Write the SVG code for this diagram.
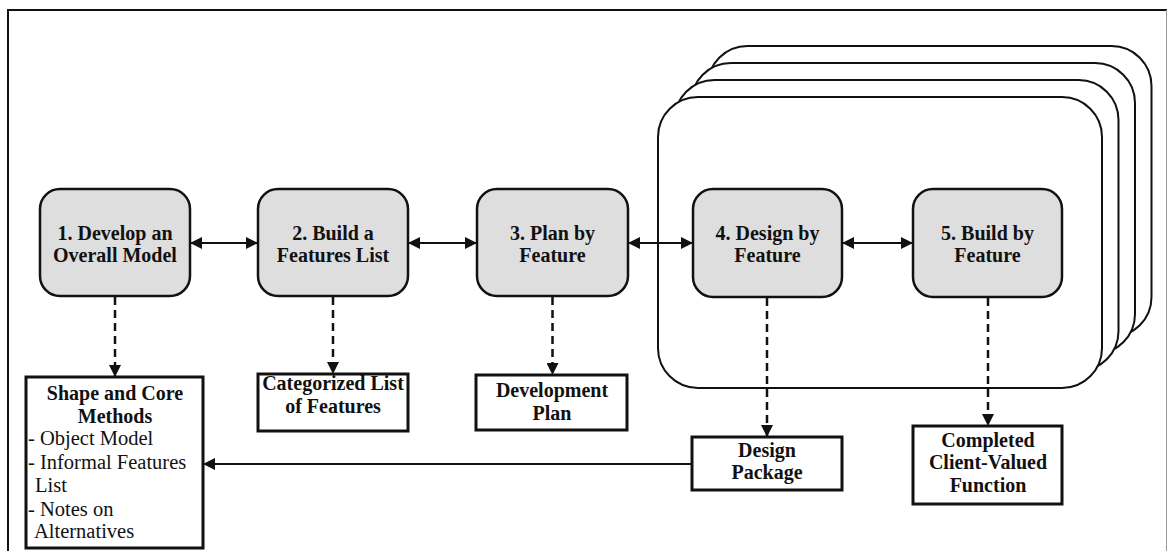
<svg xmlns="http://www.w3.org/2000/svg" width="1168" height="551" viewBox="0 0 1168 551">
  <style>
    .frame { fill: #ffffff; stroke: #111111; stroke-width: 2; }
    .step rect { fill: #dedede; stroke: #111111; stroke-width: 2.5; }
    .out rect { fill: #ffffff; stroke: #111111; stroke-width: 3; }
    text { font-family: "Liberation Serif", "Times New Roman", serif; font-size: 20px; fill: #111111; }
    .b { font-weight: bold; text-anchor: middle; }
    .n { font-size: 20.5px; }
    .solid { stroke: #111111; stroke-width: 2; fill: none; }
    .dash { stroke: #111111; stroke-width: 2.5; fill: none; stroke-dasharray: 8 5; }
  </style>
  <defs>
    <marker id="head" markerUnits="userSpaceOnUse" markerWidth="12" markerHeight="12" refX="12" refY="6" orient="auto-start-reverse">
      <path d="M0,0 L12,6 L0,12 z" fill="#111111"/>
    </marker>
  </defs>

  <!-- page border -->
  <g id="border">
    <line x1="7" y1="10" x2="1167" y2="10" stroke="#111111" stroke-width="2"/>
    <line x1="8" y1="9" x2="8" y2="551" stroke="#111111" stroke-width="2"/>
    <line x1="1166.5" y1="10" x2="1166.5" y2="551" stroke="#999999" stroke-width="1"/>
  </g>

  <!-- stacked iteration frames, back to front -->
  <g id="iteration-frames">
    <rect class="frame" x="707.5" y="46" width="444" height="291" rx="40" ry="40"/>
    <rect class="frame" x="691" y="63" width="444" height="291" rx="40" ry="40"/>
    <rect class="frame" x="674.5" y="80" width="444" height="291" rx="40" ry="40"/>
    <rect class="frame" x="658" y="97" width="444" height="291" rx="40" ry="40"/>
  </g>

  <!-- process steps -->
  <g id="step1" class="step">
    <rect x="40" y="189" width="150" height="107" rx="20" ry="20"/>
    <text class="b" x="115" y="240">1. Develop an</text>
    <text class="b" x="115" y="262">Overall Model</text>
  </g>
  <g id="step2" class="step">
    <rect x="258" y="189" width="150" height="107" rx="20" ry="20"/>
    <text class="b" x="333" y="240">2. Build a</text>
    <text class="b" x="333" y="262">Features List</text>
  </g>
  <g id="step3" class="step">
    <rect x="477" y="189" width="151" height="107" rx="20" ry="20"/>
    <text class="b" x="552.5" y="240">3. Plan by</text>
    <text class="b" x="552.5" y="262">Feature</text>
  </g>
  <g id="step4" class="step">
    <rect x="693" y="189" width="149" height="108" rx="20" ry="20"/>
    <text class="b" x="767.5" y="240">4. Design by</text>
    <text class="b" x="767.5" y="262">Feature</text>
  </g>
  <g id="step5" class="step">
    <rect x="913" y="189" width="149" height="108" rx="20" ry="20"/>
    <text class="b" x="987.5" y="240">5. Build by</text>
    <text class="b" x="987.5" y="262">Feature</text>
  </g>

  <!-- outputs -->
  <g id="out1" class="out">
    <rect x="26" y="377" width="177" height="171"/>
    <text class="b" x="115" y="400">Shape and Core</text>
    <text class="b" x="115" y="423">Methods</text>
    <text class="n" x="28" y="445">- Object Model</text>
    <text class="n" x="28" y="469">- Informal Features</text>
    <text class="n" x="35" y="492">List</text>
    <text class="n" x="28" y="516">- Notes on</text>
    <text class="n" x="34" y="538">Alternatives</text>
  </g>
  <g id="out2" class="out">
    <rect x="258" y="374" width="150" height="57"/>
    <text class="b" x="333" y="390">Categorized List</text>
    <text class="b" x="333" y="413">of Features</text>
  </g>
  <g id="out3" class="out">
    <rect x="476" y="375" width="151" height="55"/>
    <text class="b" x="552" y="397">Development</text>
    <text class="b" x="552" y="420">Plan</text>
  </g>
  <g id="out4" class="out">
    <rect x="692" y="437" width="150" height="53"/>
    <text class="b" x="767" y="457">Design</text>
    <text class="b" x="767" y="479">Package</text>
  </g>
  <g id="out5" class="out">
    <rect x="913" y="426" width="149" height="78"/>
    <text class="b" x="988" y="447">Completed</text>
    <text class="b" x="988" y="469">Client-Valued</text>
    <text class="b" x="988" y="492">Function</text>
  </g>

  <!-- connectors -->
  <g id="connectors">
    <line class="solid" x1="190" y1="243" x2="258" y2="243" marker-start="url(#head)" marker-end="url(#head)"/>
    <line class="solid" x1="408" y1="243" x2="477" y2="243" marker-start="url(#head)" marker-end="url(#head)"/>
    <line class="solid" x1="628" y1="243" x2="693" y2="243" marker-start="url(#head)" marker-end="url(#head)"/>
    <line class="solid" x1="842" y1="243" x2="913" y2="243" marker-start="url(#head)" marker-end="url(#head)"/>

    <line class="dash" x1="115" y1="297" x2="115" y2="377" marker-end="url(#head)"/>
    <line class="dash" x1="333" y1="297" x2="333" y2="374" marker-end="url(#head)"/>
    <line class="dash" x1="552.5" y1="297" x2="552.5" y2="375" marker-end="url(#head)"/>
    <line class="dash" x1="767" y1="298" x2="767" y2="437" marker-end="url(#head)"/>
    <line class="dash" x1="988" y1="298" x2="988" y2="426" marker-end="url(#head)"/>

    <line class="solid" x1="692" y1="464" x2="203" y2="464" marker-end="url(#head)"/>
  </g>
</svg>
